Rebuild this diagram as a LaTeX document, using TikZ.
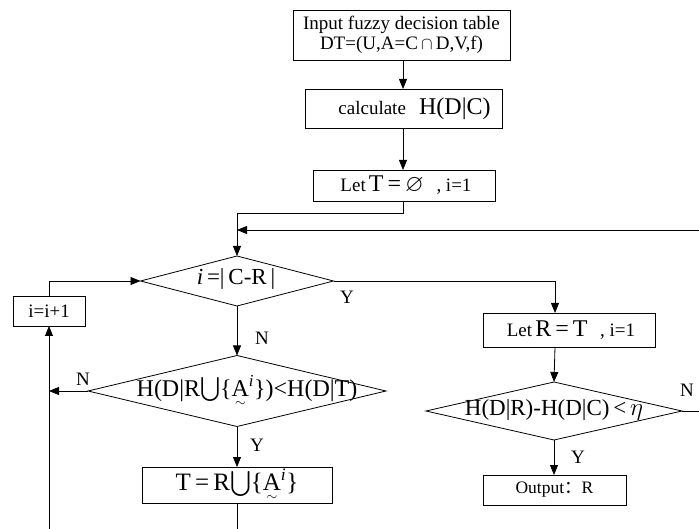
\documentclass[tikz,border=0pt]{standalone}
\usepackage{amsmath,amssymb}
\usepackage{fontspec}
\setmainfont{Liberation Serif}
\newfontfamily\cjk{Noto Sans CJK SC}
\usetikzlibrary{shapes.geometric,arrows.meta}
\newcommand{\fs}[1]{\fontsize{#1}{#1}\selectfont}
\newcommand{\Atil}{\text{\ooalign{A\cr\hidewidth\raisebox{-0.42em}{\scalebox{0.55}{$\sim$}}\hidewidth\cr}}^{\mathit{i}}}
\begin{document}
\begin{tikzpicture}[x=1pt,y=-1pt,
  box/.style={draw,line width=0.8pt,rectangle,inner sep=1pt,outer sep=0pt,align=center,font=\fs{19}},
  dia/.style={draw,line width=0.8pt,diamond,inner sep=0pt,outer sep=0pt},
  txt/.style={inner sep=0pt,outer sep=0pt,font=\fs{22}},
  lab/.style={inner sep=0pt,font=\fs{19}},
  arr/.style={line width=0.8pt,-{Triangle[length=10pt,width=8pt]}},
  ln/.style={line width=0.8pt}]
\useasboundingbox (0,0) rectangle (699,529);
% top column
\node[box,minimum width=217,minimum height=50,font=\fs{19}] (input) at (401.5,35)
  {Input fuzzy decision table\\[1.5pt]DT=(U,A=C\,$\cap$\,D,V,f)};
\node[box,minimum width=197,minimum height=39] (calc) at (403.5,108.5)
  {\hspace*{22pt}calculate\;\, {\fs{24}H(D|C)}};
\node[box,minimum width=182,minimum height=31] (letT) at (404,185.5)
  {\hspace*{4pt}Let\,{\fs{24}T\,=\,$\varnothing$}\enspace\,, i=1};
% decision 1
\node[dia,minimum width=193,minimum height=50] (d1) at (237,281) {};
\node[txt,font=\fs{23}] (d1t) at (236,279) {\textit{i}\,=|\,C-R\,|};
% increment
\node[box,minimum width=72,minimum height=30] (inc) at (49,311) {i=i+1};
% decision 2
\node[dia,minimum width=298,minimum height=71] (d2) at (237,391) {};
\node[txt,font=\fs{24}] (d2t) at (247,391) {H(D|R$\bigcup${\{}$\Atil${\}})<H(D|T)};
% T = R u A
\node[box,minimum width=190,minimum height=36,font=\fs{25}] (setT) at (237,485)
  {T\,=\,R$\bigcup${\{}$\Atil${\}}};
% right branch
\node[box,minimum width=172,minimum height=34] (letR) at (569,330)
  {\hspace*{4pt}Let\,{\fs{24}R\,=\,T}\enspace\,, i=1};
\node[dia,minimum width=256,minimum height=58] (d3) at (554,411) {};
\node[txt,font=\fs{23}] (d3t) at (554,410) {H(D|R)-H(D|C)\,<\,$\eta$};
\node[box,minimum width=143,minimum height=30,font=\fs{17.5}] (out) at (554.5,490)
  {Output{\cjk ：}R};
% labels
\node[lab] (y1) at (347,297) {Y};
\node[lab] (n1) at (262,338) {N};
\node[lab] (n2) at (83,379) {N};
\node[lab] (y2) at (257,445) {Y};
\node[lab] (n3) at (687,390) {N};
\node[lab] (y3) at (578,457) {Y};
% coordinates
\coordinate (j1) at (403,213);
\coordinate (j2) at (237,213);
\coordinate (jr) at (237,230);
\coordinate (redge) at (699,230);
\coordinate (r1) at (555,281);
\coordinate (d3e) at (699,411);
\coordinate (lb) at (49,529);
\coordinate (ln2) at (49,391);
\coordinate (lt) at (49,281);
\coordinate (bb) at (237,529);
% connectors
\draw[arr] (input.south -| 403,0) -- (calc.north -| 403,0);
\draw[arr] (calc.south -| 403,0) -- (letT.north -| 403,0);
\draw[arr] (letT.south -| 403,0) -- (j1) -- (j2) -- (d1.north);
\draw[arr] (redge) -- (jr);
\draw[arr] (d1.east) -- (r1) -- (letR.north -| r1);
\draw[arr] (letR.south -| r1) -- (d3.north);
\draw[arr] (d3.south) -- (out.north -| d3.south);
\draw[ln] (d3.east) -- (d3e);
\draw[arr] (d1.south) -- (d2.north);
\draw[arr] (d2.west) -- (ln2);
\draw[arr] (lb) -- (inc.south);
\draw[arr] (inc.north) -- (lt) -- (d1.west);
\draw[arr] (d2.south) -- (setT.north);
\draw[ln] (setT.south) -- (bb);
\end{tikzpicture}
\end{document}
